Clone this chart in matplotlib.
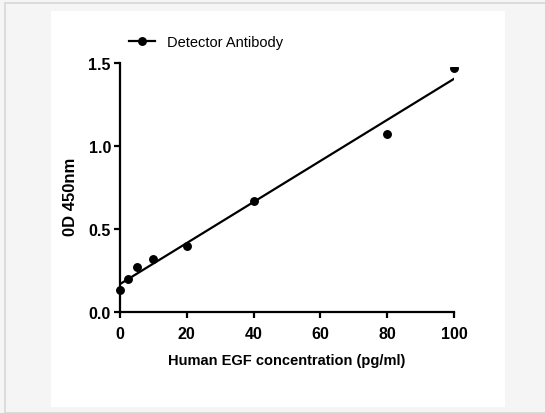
import matplotlib
matplotlib.use("Agg")
import matplotlib.pyplot as plt
from matplotlib.patches import Rectangle
from matplotlib.lines import Line2D
import numpy as np

plt.rcParams['font.family'] = ['Liberation Sans', 'DejaVu Sans']

# Data
conc = [0, 2.5, 5, 10, 20, 40, 80, 100]
od = [0.13, 0.20, 0.27, 0.32, 0.40, 0.67, 1.07, 1.47]
series_label = "Detector Antibody"
x_label = "Human EGF concentration (pg/ml)"
y_label = "0D 450nm"
x_ticks = [0, 20, 40, 60, 80, 100]
y_ticks = [0.0, 0.5, 1.0, 1.5]

W, H = 545, 414
fig = plt.figure(figsize=(W / 100, H / 100), dpi=100)
fig.patch.set_facecolor('#f5f5f5')

# outer frame and white panel
fig.patches.append(Rectangle((5 / W, 0.5 / H), 600 / W, (H - 4.5) / H, transform=fig.transFigure,
                             facecolor='#f5f5f5', edgecolor='#d8d8d8', linewidth=1.2, zorder=-2))
fig.patches.append(Rectangle((51 / W, (H - 408) / H), 454 / W, 396 / H, transform=fig.transFigure,
                             facecolor='white', edgecolor='none', zorder=-1))

ax = fig.add_axes([120 / W, (H - 313) / H, 334 / W, 249 / H])
ax.patch.set_alpha(0)

slope, intercept = np.polyfit(conc, od, 1)
xs = np.array([0, 100])
ax.plot(xs, slope * xs + intercept, color='black', linewidth=1.6, zorder=3)

pts, = ax.plot(conc, od, 'o', color='black', markersize=5.4, zorder=4, clip_on=True)
clip_rect = Rectangle((-10, -0.2), 120, 1.675, transform=ax.transData)
pts.set_clip_path(clip_rect)

ax.set_xlim(0, 100)
ax.set_ylim(0, 1.5)
ax.set_xticks(x_ticks)
ax.set_yticks(y_ticks)
ax.set_xticklabels([str(t) for t in x_ticks], fontsize=11.5, fontweight='bold')
ax.set_yticklabels([f"{t:.1f}" for t in y_ticks], fontsize=11.5, fontweight='bold')
for s in ['top', 'right']:
    ax.spines[s].set_visible(False)
for s in ['left', 'bottom']:
    ax.spines[s].set_linewidth(1.6)
ax.tick_params(direction='out', length=4, width=1.6)
ax.tick_params(axis='x', pad=6)
ax.tick_params(axis='y', pad=2.5)

ax.set_xlabel(x_label, fontsize=10.5, fontweight='bold', labelpad=9)
ax.set_ylabel(y_label, fontsize=12, fontweight='bold')
ax.yaxis.set_label_coords(-0.127, 0.466)

handle = Line2D([], [], color='black', marker='o', markersize=5.4, linewidth=1.6)
fig.legend([handle], [series_label], loc='center left', bbox_to_anchor=(129 / W, 1 - 43.5 / H),
           frameon=False, fontsize=10.5, handlelength=1.75, handletextpad=0.85, borderpad=0,
           borderaxespad=0)

fig.savefig('out.png', dpi=100, facecolor=fig.get_facecolor())
